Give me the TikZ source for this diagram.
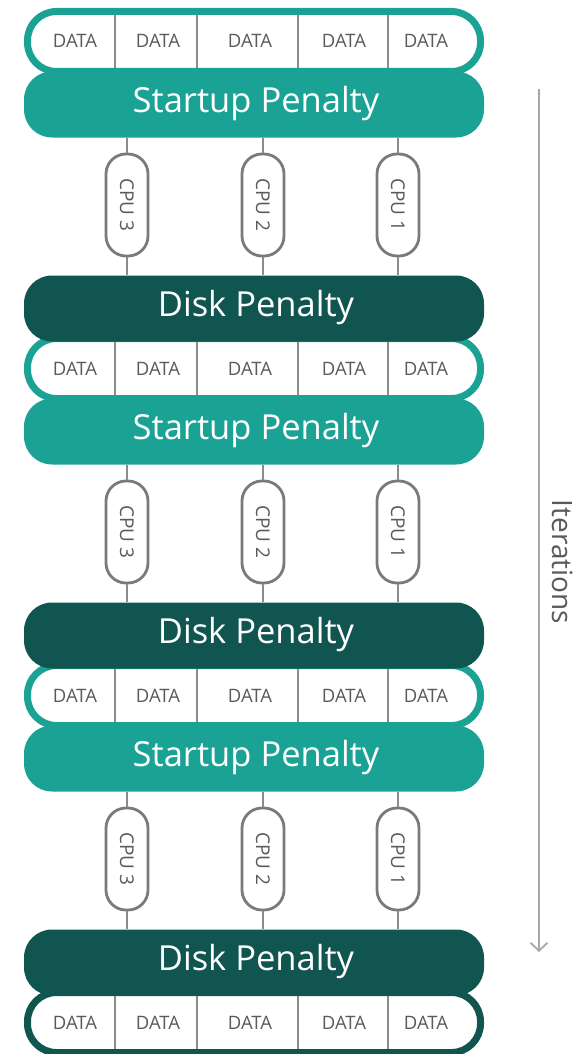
\documentclass[tikz,border=0pt]{standalone}
\usepackage{fontspec}
\usepackage{graphicx}
\setmainfont{Open Sans}
\usetikzlibrary{arrows.meta}

\definecolor{tealbar}{HTML}{1AA394}
\definecolor{darkbar}{HTML}{115550}
\definecolor{cellgray}{HTML}{8C8C8C}
\definecolor{cpugray}{HTML}{7A7A7A}
\definecolor{labelgray}{HTML}{5A5A5A}
\definecolor{arrowgray}{HTML}{A8A8A8}

\begin{document}
\begin{tikzpicture}[x=1pt,y=-1pt,
  penalty/.style={rounded corners=28pt, minimum width=460pt, minimum height=66pt,
    inner sep=0pt, text=white, text height=25pt, text depth=9pt,
    font=\fontsize{34.5}{40}\selectfont},
  startupbar/.style={penalty, fill=tealbar},
  diskbar/.style={penalty, fill=darkbar},
  databar/.style={draw=#1, line width=7pt, fill=white, rounded corners=29pt,
    minimum width=453pt, minimum height=60pt, inner sep=0pt},
  datalabel/.style={text=labelgray, inner sep=0pt, text height=13pt, text depth=0pt,
    font=\fontsize{18.5}{20}\selectfont},
  cell/.style={draw=cellgray, line width=1.6pt},
  cpubox/.style={draw=cpugray, line width=2.8pt, fill=white, rounded corners=20pt,
    minimum width=42pt, minimum height=102pt, inner sep=0pt, text=labelgray,
    font=\fontsize{19}{21}\selectfont},
  link/.style={draw=cellgray, line width=1.6pt},
]
\useasboundingbox (0,0) rectangle (582,1054);

% data strips: three teal-framed, the last one framed in dark teal
\foreach \k/\frame in {0/tealbar,1/tealbar,2/tealbar,3/darkbar}{
  \pgfmathsetmacro{\yc}{41.5+327*\k}
  \node[databar=\frame] (data\k) at (254,\yc) {};
  \foreach \x in {115,197,298,388}
    \draw[cell] (\x,{\yc-26.5}) -- (\x,{\yc+26.5});
  \foreach \x [count=\i] in {75,158,250,344,426}
    \node[datalabel] (data\k-\i) at (\x,\yc) {DATA};
}

% penalty bars, CPU capsules and the links between them
\foreach \k in {0,1,2}{
  \pgfmathsetmacro{\ys}{104.5+327*\k}
  \pgfmathsetmacro{\yd}{308.5+327*\k}
  \pgfmathsetmacro{\yp}{205+327*\k}
  \node[startupbar] (su\k) at (254,\ys) {\hspace*{4pt}Startup Penalty};
  \node[diskbar] (dk\k) at (254,\yd) {\hspace*{4pt}Disk Penalty};
  \foreach \x/\n in {127/3,263/2,398/1}{
    \node[cpubox] (cpu\k-\n) at (\x,\yp) {\rotatebox{-90}{CPU \n}};
    \draw[link] (su\k.south -| cpu\k-\n.north) -- (cpu\k-\n.north);
    \draw[link] (cpu\k-\n.south) -- (cpu\k-\n.south |- dk\k.north);
  }
}

% iteration axis
\coordinate (itstart) at (539,89);
\coordinate (itend) at (539,952);
\draw[draw=arrowgray, line width=1.8pt,
  -{Straight Barb[length=8pt,width=17pt,line width=1.8pt]}] (itstart) -- (itend);
\node[rotate=-90, text=labelgray, inner sep=0pt,
  font=\fontsize{28}{30}\selectfont] (iter) at (563,562) {Iterations};
\end{tikzpicture}
\end{document}
